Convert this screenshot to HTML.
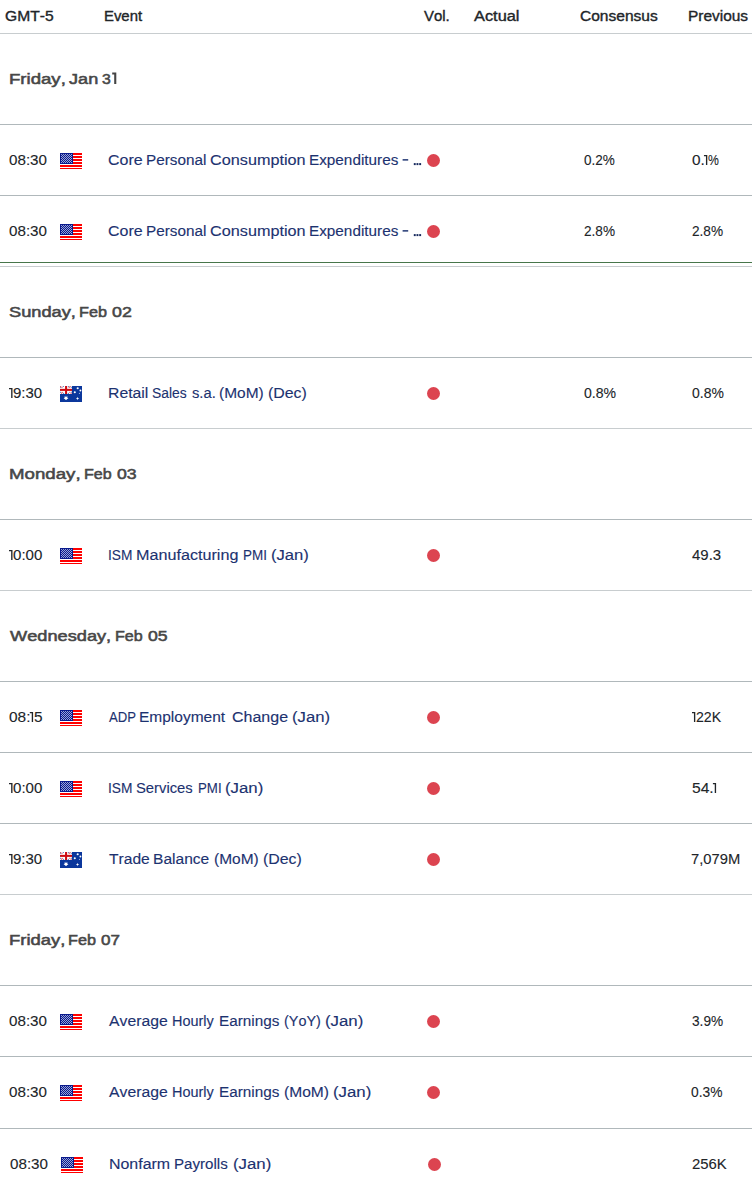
<!DOCTYPE html>
<html><head><meta charset="utf-8"><title>Economic Calendar</title>
<style>
html,body{margin:0;padding:0;background:#fff}
body{font-kerning:none;width:752px;height:1182px;position:relative;overflow:hidden;font-family:"Liberation Sans",sans-serif;color:#222}
.ln{position:absolute;left:0;width:752px;height:1px;background:#c8cdcf}
.dk{background:#b0b8bb}
.gl{position:absolute;left:0;width:752px;height:1px;background:#47764a}
.w{position:absolute;white-space:nowrap;font-size:14px;line-height:20px;height:20px;transform-origin:0 0}
.h{color:#212529;-webkit-text-stroke:0.35px #212529}
.d{font-size:15.5px;color:#474747;-webkit-text-stroke:0.55px #474747;line-height:22px;height:22px}
.e{color:#1c3270;-webkit-text-stroke:0.12px #1c3270}
.v{color:#212529;-webkit-text-stroke:0.1px #212529}
.dot{position:absolute;width:13px;height:13px;border-radius:50%;background:#dc4450}
.el{position:absolute;width:1.9px;height:2px;background:#16285c}
.fl{position:absolute}
.ov{position:absolute;left:0;top:0}
</style></head><body>
<svg width="0" height="0" style="position:absolute"><defs><pattern id="st" width="2" height="2" patternUnits="userSpaceOnUse"><rect width="2" height="2" fill="#0a1a8c"/><rect width="1" height="1" fill="#9aa4d8"/><rect x="1" y="1" width="1" height="1" fill="#9aa4d8"/></pattern></defs></svg>

<div class="ln" style="top:33px"></div>
<div class="ln dk" style="top:124px"></div>
<div class="ln dk" style="top:195px"></div>
<div class="ln" style="top:266px"></div>
<div class="ln dk" style="top:357px"></div>
<div class="ln" style="top:428px"></div>
<div class="ln dk" style="top:519px"></div>
<div class="ln" style="top:590px"></div>
<div class="ln dk" style="top:681px"></div>
<div class="ln dk" style="top:752px"></div>
<div class="ln dk" style="top:823px"></div>
<div class="ln" style="top:894px"></div>
<div class="ln dk" style="top:985px"></div>
<div class="ln dk" style="top:1056px"></div>
<div class="ln dk" style="top:1128px"></div>
<div class="gl" style="top:262px"></div>
<span class="w h" style="left:4.79px;top:6.33px;transform:scaleX(1.1155)">GMT-5</span>
<span class="w h" style="left:104.06px;top:6.33px;transform:scaleX(1.0634)">Event</span>
<span class="w h" style="left:423.91px;top:6.33px;transform:scaleX(1.0683)">Vol.</span>
<span class="w h" style="left:473.55px;top:6.33px;transform:scaleX(1.1685)">Actual</span>
<span class="w h" style="left:580.29px;top:6.33px;transform:scaleX(1.1092)">Consensus</span>
<span class="w h" style="left:687.51px;top:6.33px;transform:scaleX(1.1027)">Previous</span>
<span class="w d" style="left:8.75px;top:67.90px;transform:scaleX(1.1998)">Friday,</span>
<span class="w d" style="left:68.80px;top:67.90px;transform:scaleX(1.1684)">Jan</span>
<span class="w d" style="left:102.48px;top:67.90px;transform:scaleX(1.0192)">3</span>
<span class="w d" style="left:8.95px;top:300.90px;transform:scaleX(1.1763)">Sunday,</span>
<span class="w d" style="left:79.45px;top:300.90px;transform:scaleX(1.0465)">Feb</span>
<span class="w d" style="left:112.09px;top:300.90px;transform:scaleX(1.1472)">02</span>
<span class="w d" style="left:8.75px;top:462.90px;transform:scaleX(1.2052)">Monday,</span>
<span class="w d" style="left:83.96px;top:462.90px;transform:scaleX(1.0365)">Feb</span>
<span class="w d" style="left:116.59px;top:462.90px;transform:scaleX(1.1401)">03</span>
<span class="w d" style="left:10.20px;top:624.90px;transform:scaleX(1.1741)">Wednesday,</span>
<span class="w d" style="left:115.21px;top:624.90px;transform:scaleX(1.0365)">Feb</span>
<span class="w d" style="left:147.84px;top:624.90px;transform:scaleX(1.1380)">05</span>
<span class="w d" style="left:8.77px;top:928.90px;transform:scaleX(1.1898)">Friday,</span>
<span class="w d" style="left:68.45px;top:928.90px;transform:scaleX(1.0465)">Feb</span>
<span class="w d" style="left:100.86px;top:928.90px;transform:scaleX(1.0999)">07</span>
<span class="w v" style="left:8.91px;top:150.33px;transform:scaleX(1.0843)">08:30</span>
<span class="w e" style="left:108.19px;top:150.33px;transform:scaleX(1.1409)">Core</span>
<span class="w e" style="left:145.65px;top:150.33px;transform:scaleX(1.0927)">Personal</span>
<span class="w e" style="left:209.93px;top:150.33px;transform:scaleX(1.1593)">Consumption</span>
<span class="w e" style="left:308.74px;top:150.33px;transform:scaleX(1.0929)">Expenditures</span>
<span class="w v" style="left:584.27px;top:150.33px;transform:scaleX(0.9655)">0.2%</span>
<span class="w v" style="left:691.70px;top:150.33px;transform:scaleX(1.0964)">0.</span>
<span class="w v" style="left:708.36px;top:150.33px;transform:scaleX(0.8733)">%</span>
<span class="w v" style="left:8.91px;top:221.33px;transform:scaleX(1.0843)">08:30</span>
<span class="w e" style="left:108.19px;top:221.33px;transform:scaleX(1.1409)">Core</span>
<span class="w e" style="left:145.65px;top:221.33px;transform:scaleX(1.0927)">Personal</span>
<span class="w e" style="left:209.93px;top:221.33px;transform:scaleX(1.1593)">Consumption</span>
<span class="w e" style="left:308.74px;top:221.33px;transform:scaleX(1.0929)">Expenditures</span>
<span class="w v" style="left:584.12px;top:221.33px;transform:scaleX(0.9705)">2.8%</span>
<span class="w v" style="left:691.51px;top:221.33px;transform:scaleX(0.9737)">2.8%</span>
<span class="w v" style="left:13.30px;top:383.33px;transform:scaleX(1.0712)">9:30</span>
<span class="w e" style="left:108.21px;top:383.33px;transform:scaleX(1.1273)">Retail</span>
<span class="w e" style="left:152.37px;top:383.33px;transform:scaleX(0.9888)">Sales</span>
<span class="w e" style="left:191.59px;top:383.33px;transform:scaleX(1.0528)">s.a.</span>
<span class="w e" style="left:219.04px;top:383.33px;transform:scaleX(1.1047)">(MoM)</span>
<span class="w e" style="left:268.42px;top:383.33px;transform:scaleX(1.1344)">(Dec)</span>
<span class="w v" style="left:584.20px;top:383.33px;transform:scaleX(1.0044)">0.8%</span>
<span class="w v" style="left:691.71px;top:383.33px;transform:scaleX(0.9963)">0.8%</span>
<span class="w v" style="left:13.21px;top:545.33px;transform:scaleX(1.0782)">0:00</span>
<span class="w e" style="left:108.23px;top:545.33px;transform:scaleX(0.9800)">ISM</span>
<span class="w e" style="left:136.17px;top:545.33px;transform:scaleX(1.1539)">Manufacturing</span>
<span class="w e" style="left:242.65px;top:545.33px;transform:scaleX(0.9599)">PMI</span>
<span class="w e" style="left:270.87px;top:545.33px;transform:scaleX(1.1887)">(Jan)</span>
<span class="w v" style="left:691.96px;top:545.33px;transform:scaleX(1.0680)">49.3</span>
<span class="w v" style="left:8.85px;top:707.33px;transform:scaleX(1.1028)">08:</span>
<span class="w v" style="left:34.08px;top:707.33px;transform:scaleX(1.0998)">5</span>
<span class="w e" style="left:109.37px;top:707.33px;transform:scaleX(0.9386)">ADP</span>
<span class="w e" style="left:139.48px;top:707.33px;transform:scaleX(1.1070)">Employment</span>
<span class="w e" style="left:231.69px;top:707.33px;transform:scaleX(1.1424)">Change</span>
<span class="w e" style="left:292.46px;top:707.33px;transform:scaleX(1.1936)">(Jan)</span>
<span class="w v" style="left:695.89px;top:707.33px;transform:scaleX(1.0104)">22K</span>
<span class="w v" style="left:13.21px;top:778.33px;transform:scaleX(1.0782)">0:00</span>
<span class="w e" style="left:108.23px;top:778.33px;transform:scaleX(0.9800)">ISM</span>
<span class="w e" style="left:136.33px;top:778.33px;transform:scaleX(1.0563)">Services</span>
<span class="w e" style="left:197.66px;top:778.33px;transform:scaleX(0.9466)">PMI</span>
<span class="w e" style="left:225.21px;top:778.33px;transform:scaleX(1.2019)">(Jan)</span>
<span class="w v" style="left:692.02px;top:778.33px;transform:scaleX(1.1150)">54.</span>
<span class="w v" style="left:13.30px;top:849.33px;transform:scaleX(1.0712)">9:30</span>
<span class="w e" style="left:108.65px;top:849.33px;transform:scaleX(1.1141)">Trade</span>
<span class="w e" style="left:153.22px;top:849.33px;transform:scaleX(1.1112)">Balance</span>
<span class="w e" style="left:214.04px;top:849.33px;transform:scaleX(1.1047)">(MoM)</span>
<span class="w e" style="left:263.42px;top:849.33px;transform:scaleX(1.1344)">(Dec)</span>
<span class="w v" style="left:691.24px;top:849.33px;transform:scaleX(1.0551)">7,079M</span>
<span class="w v" style="left:8.91px;top:1011.33px;transform:scaleX(1.0843)">08:30</span>
<span class="w e" style="left:108.97px;top:1011.33px;transform:scaleX(1.1263)">Average</span>
<span class="w e" style="left:172.07px;top:1011.33px;transform:scaleX(1.0311)">Hourly</span>
<span class="w e" style="left:218.75px;top:1011.33px;transform:scaleX(1.0914)">Earnings</span>
<span class="w e" style="left:283.61px;top:1011.33px;transform:scaleX(1.0279)">(YoY)</span>
<span class="w e" style="left:324.71px;top:1011.33px;transform:scaleX(1.2019)">(Jan)</span>
<span class="w v" style="left:691.78px;top:1011.33px;transform:scaleX(0.9748)">3.9%</span>
<span class="w v" style="left:8.91px;top:1082.33px;transform:scaleX(1.0843)">08:30</span>
<span class="w e" style="left:108.97px;top:1082.33px;transform:scaleX(1.1263)">Average</span>
<span class="w e" style="left:172.07px;top:1082.33px;transform:scaleX(1.0311)">Hourly</span>
<span class="w e" style="left:218.75px;top:1082.33px;transform:scaleX(1.0914)">Earnings</span>
<span class="w e" style="left:283.54px;top:1082.33px;transform:scaleX(1.1112)">(MoM)</span>
<span class="w e" style="left:332.71px;top:1082.33px;transform:scaleX(1.2019)">(Jan)</span>
<span class="w v" style="left:691.46px;top:1082.33px;transform:scaleX(0.9850)">0.3%</span>
<span class="w v" style="left:9.91px;top:1154.33px;transform:scaleX(1.0843)">08:30</span>
<span class="w e" style="left:108.69px;top:1154.33px;transform:scaleX(1.1383)">Nonfarm</span>
<span class="w e" style="left:174.26px;top:1154.33px;transform:scaleX(1.0802)">Payrolls</span>
<span class="w e" style="left:232.71px;top:1154.33px;transform:scaleX(1.2019)">(Jan)</span>
<span class="w v" style="left:692.35px;top:1154.33px;transform:scaleX(1.0649)">256K</span>
<svg class="ov" width="752" height="1182" viewBox="0 0 752 1182"><path fill="#454545" d="M112.20 72.50H116.30V84.00H114.20V74.50H112.20Z"/><path fill="#212529" d="M703.95 155.00H707.30V165.00H705.95V156.30H703.95Z"/><path fill="#212529" d="M9.00 388.00H12.50V398.00H11.15V389.30H9.00Z"/><path fill="#212529" d="M9.00 550.00H12.50V560.00H11.15V551.30H9.00Z"/><path fill="#212529" d="M29.80 712.00H33.10V722.00H31.75V713.30H29.80Z"/><path fill="#212529" d="M692.00 712.00H695.30V722.00H693.95V713.30H692.00Z"/><path fill="#212529" d="M9.00 783.00H12.50V793.00H11.15V784.30H9.00Z"/><path fill="#212529" d="M712.90 783.00H716.10V793.00H714.75V784.30H712.90Z"/><path fill="#212529" d="M9.00 854.00H12.50V864.00H11.15V855.30H9.00Z"/><rect x="402.6" y="159.15" width="5.6" height="1.45" fill="#1c3270"/><rect x="413.80" y="163.1" width="1.9" height="2" fill="#16285c"/><rect x="416.50" y="163.1" width="1.9" height="2" fill="#16285c"/><rect x="419.20" y="163.1" width="1.9" height="2" fill="#16285c"/><rect x="402.6" y="230.15" width="5.6" height="1.45" fill="#1c3270"/><rect x="413.80" y="234.1" width="1.9" height="2" fill="#16285c"/><rect x="416.50" y="234.1" width="1.9" height="2" fill="#16285c"/><rect x="419.20" y="234.1" width="1.9" height="2" fill="#16285c"/></svg>
<svg class="fl" style="top:153px;left:60px" width="22" height="17" viewBox="0 0 22 17" shape-rendering="crispEdges"><rect width="22" height="17" fill="#fff"/><g fill="#f00"><rect y="0" width="22" height="2"/><rect y="3" width="22" height="2"/><rect y="6" width="22" height="2"/><rect y="9" width="22" height="2"/><rect y="12" width="22" height="2"/><rect y="15" width="22" height="1.3"/></g><rect width="13" height="11" fill="#0a1a8c"/><rect x="1" y="1" width="11" height="9" fill="url(#st)"/></svg>
<div class="dot" style="left:427px;top:154px"></div>
<svg class="fl" style="top:224px;left:60px" width="22" height="17" viewBox="0 0 22 17" shape-rendering="crispEdges"><rect width="22" height="17" fill="#fff"/><g fill="#f00"><rect y="0" width="22" height="2"/><rect y="3" width="22" height="2"/><rect y="6" width="22" height="2"/><rect y="9" width="22" height="2"/><rect y="12" width="22" height="2"/><rect y="15" width="22" height="1.3"/></g><rect width="13" height="11" fill="#0a1a8c"/><rect x="1" y="1" width="11" height="9" fill="url(#st)"/></svg>
<div class="dot" style="left:427px;top:225px"></div>
<svg class="fl" style="top:386px;left:60px" width="22" height="16" viewBox="0 0 22 16"><rect width="22" height="16" fill="#0b379c"/><rect width="12" height="8" fill="#fff"/><rect x="0.0" y="0.8" width="1.2" height="1" fill="#2450ad" opacity=".75"/><rect x="2.8" y="-0.1" width="1.2" height="1" fill="#2450ad" opacity=".75"/><rect x="1.4" y="0.8" width="1.2" height="1" fill="#d8222a" opacity=".75"/><rect x="-0.1" y="-0.1" width="1.2" height="1" fill="#d8222a" opacity=".75"/><rect x="7.9" y="-0.1" width="1.2" height="1" fill="#2450ad" opacity=".75"/><rect x="9.5" y="0.0" width="1.2" height="1" fill="#d8222a" opacity=".75"/><rect x="8.6" y="1.0" width="1.2" height="1" fill="#d8222a" opacity=".75"/><rect x="10.7" y="0.8" width="1.2" height="1" fill="#2450ad" opacity=".75"/><rect x="-0.1" y="5.8" width="1.2" height="1" fill="#2450ad" opacity=".75"/><rect x="1.7" y="5.9" width="1.2" height="1" fill="#d8222a" opacity=".75"/><rect x="0.9" y="6.8" width="1.2" height="1" fill="#d8222a" opacity=".75"/><rect x="9.2" y="5.8" width="1.2" height="1" fill="#d8222a" opacity=".75"/><rect x="10.9" y="5.7" width="1.2" height="1" fill="#2450ad" opacity=".75"/><rect x="10.5" y="6.9" width="1.2" height="1" fill="#d8222a" opacity=".75"/><rect x="2.9" y="6.9" width="1.2" height="1" fill="#2450ad" opacity=".75"/><rect x="7.8" y="6.9" width="1.2" height="1" fill="#2450ad" opacity=".75"/><rect x="5.05" y="0" width="2.05" height="8" fill="#cc0a12"/><rect x="0" y="2.85" width="12" height="2.05" fill="#cc0a12"/><polygon fill="#fff" points="6.00,9.60 6.54,10.97 7.95,10.54 7.22,11.82 8.44,12.66 6.98,12.88 7.08,14.35 6.00,13.35 4.92,14.35 5.02,12.88 3.56,12.66 4.78,11.82 4.05,10.54 5.46,10.97"/><polygon fill="#fff" points="17.55,10.80 17.97,12.08 19.25,12.50 17.97,12.92 17.55,14.20 17.13,12.92 15.85,12.50 17.13,12.08"/><circle cx="14.8" cy="6.3" r="1.05" fill="#fff"/><circle cx="17.7" cy="2.3" r="1.05" fill="#fff"/><circle cx="20.4" cy="4.5" r="0.95" fill="#fff"/><circle cx="19.5" cy="7.4" r="0.6" fill="#fff" opacity=".6"/></svg>
<div class="dot" style="left:427px;top:387px"></div>
<svg class="fl" style="top:548px;left:60px" width="22" height="17" viewBox="0 0 22 17" shape-rendering="crispEdges"><rect width="22" height="17" fill="#fff"/><g fill="#f00"><rect y="0" width="22" height="2"/><rect y="3" width="22" height="2"/><rect y="6" width="22" height="2"/><rect y="9" width="22" height="2"/><rect y="12" width="22" height="2"/><rect y="15" width="22" height="1.3"/></g><rect width="13" height="11" fill="#0a1a8c"/><rect x="1" y="1" width="11" height="9" fill="url(#st)"/></svg>
<div class="dot" style="left:427px;top:549px"></div>
<svg class="fl" style="top:710px;left:60px" width="22" height="17" viewBox="0 0 22 17" shape-rendering="crispEdges"><rect width="22" height="17" fill="#fff"/><g fill="#f00"><rect y="0" width="22" height="2"/><rect y="3" width="22" height="2"/><rect y="6" width="22" height="2"/><rect y="9" width="22" height="2"/><rect y="12" width="22" height="2"/><rect y="15" width="22" height="1.3"/></g><rect width="13" height="11" fill="#0a1a8c"/><rect x="1" y="1" width="11" height="9" fill="url(#st)"/></svg>
<div class="dot" style="left:427px;top:711px"></div>
<svg class="fl" style="top:781px;left:60px" width="22" height="17" viewBox="0 0 22 17" shape-rendering="crispEdges"><rect width="22" height="17" fill="#fff"/><g fill="#f00"><rect y="0" width="22" height="2"/><rect y="3" width="22" height="2"/><rect y="6" width="22" height="2"/><rect y="9" width="22" height="2"/><rect y="12" width="22" height="2"/><rect y="15" width="22" height="1.3"/></g><rect width="13" height="11" fill="#0a1a8c"/><rect x="1" y="1" width="11" height="9" fill="url(#st)"/></svg>
<div class="dot" style="left:427px;top:782px"></div>
<svg class="fl" style="top:852px;left:60px" width="22" height="16" viewBox="0 0 22 16"><rect width="22" height="16" fill="#0b379c"/><rect width="12" height="8" fill="#fff"/><rect x="0.0" y="0.8" width="1.2" height="1" fill="#2450ad" opacity=".75"/><rect x="2.8" y="-0.1" width="1.2" height="1" fill="#2450ad" opacity=".75"/><rect x="1.4" y="0.8" width="1.2" height="1" fill="#d8222a" opacity=".75"/><rect x="-0.1" y="-0.1" width="1.2" height="1" fill="#d8222a" opacity=".75"/><rect x="7.9" y="-0.1" width="1.2" height="1" fill="#2450ad" opacity=".75"/><rect x="9.5" y="0.0" width="1.2" height="1" fill="#d8222a" opacity=".75"/><rect x="8.6" y="1.0" width="1.2" height="1" fill="#d8222a" opacity=".75"/><rect x="10.7" y="0.8" width="1.2" height="1" fill="#2450ad" opacity=".75"/><rect x="-0.1" y="5.8" width="1.2" height="1" fill="#2450ad" opacity=".75"/><rect x="1.7" y="5.9" width="1.2" height="1" fill="#d8222a" opacity=".75"/><rect x="0.9" y="6.8" width="1.2" height="1" fill="#d8222a" opacity=".75"/><rect x="9.2" y="5.8" width="1.2" height="1" fill="#d8222a" opacity=".75"/><rect x="10.9" y="5.7" width="1.2" height="1" fill="#2450ad" opacity=".75"/><rect x="10.5" y="6.9" width="1.2" height="1" fill="#d8222a" opacity=".75"/><rect x="2.9" y="6.9" width="1.2" height="1" fill="#2450ad" opacity=".75"/><rect x="7.8" y="6.9" width="1.2" height="1" fill="#2450ad" opacity=".75"/><rect x="5.05" y="0" width="2.05" height="8" fill="#cc0a12"/><rect x="0" y="2.85" width="12" height="2.05" fill="#cc0a12"/><polygon fill="#fff" points="6.00,9.60 6.54,10.97 7.95,10.54 7.22,11.82 8.44,12.66 6.98,12.88 7.08,14.35 6.00,13.35 4.92,14.35 5.02,12.88 3.56,12.66 4.78,11.82 4.05,10.54 5.46,10.97"/><polygon fill="#fff" points="17.55,10.80 17.97,12.08 19.25,12.50 17.97,12.92 17.55,14.20 17.13,12.92 15.85,12.50 17.13,12.08"/><circle cx="14.8" cy="6.3" r="1.05" fill="#fff"/><circle cx="17.7" cy="2.3" r="1.05" fill="#fff"/><circle cx="20.4" cy="4.5" r="0.95" fill="#fff"/><circle cx="19.5" cy="7.4" r="0.6" fill="#fff" opacity=".6"/></svg>
<div class="dot" style="left:427px;top:853px"></div>
<svg class="fl" style="top:1014px;left:60px" width="22" height="17" viewBox="0 0 22 17" shape-rendering="crispEdges"><rect width="22" height="17" fill="#fff"/><g fill="#f00"><rect y="0" width="22" height="2"/><rect y="3" width="22" height="2"/><rect y="6" width="22" height="2"/><rect y="9" width="22" height="2"/><rect y="12" width="22" height="2"/><rect y="15" width="22" height="1.3"/></g><rect width="13" height="11" fill="#0a1a8c"/><rect x="1" y="1" width="11" height="9" fill="url(#st)"/></svg>
<div class="dot" style="left:427px;top:1015px"></div>
<svg class="fl" style="top:1085px;left:60px" width="22" height="17" viewBox="0 0 22 17" shape-rendering="crispEdges"><rect width="22" height="17" fill="#fff"/><g fill="#f00"><rect y="0" width="22" height="2"/><rect y="3" width="22" height="2"/><rect y="6" width="22" height="2"/><rect y="9" width="22" height="2"/><rect y="12" width="22" height="2"/><rect y="15" width="22" height="1.3"/></g><rect width="13" height="11" fill="#0a1a8c"/><rect x="1" y="1" width="11" height="9" fill="url(#st)"/></svg>
<div class="dot" style="left:427px;top:1086px"></div>
<svg class="fl" style="top:1157px;left:61px" width="22" height="17" viewBox="0 0 22 17" shape-rendering="crispEdges"><rect width="22" height="17" fill="#fff"/><g fill="#f00"><rect y="0" width="22" height="2"/><rect y="3" width="22" height="2"/><rect y="6" width="22" height="2"/><rect y="9" width="22" height="2"/><rect y="12" width="22" height="2"/><rect y="15" width="22" height="1.3"/></g><rect width="13" height="11" fill="#0a1a8c"/><rect x="1" y="1" width="11" height="9" fill="url(#st)"/></svg>
<div class="dot" style="left:428px;top:1158px"></div>
</body></html>
